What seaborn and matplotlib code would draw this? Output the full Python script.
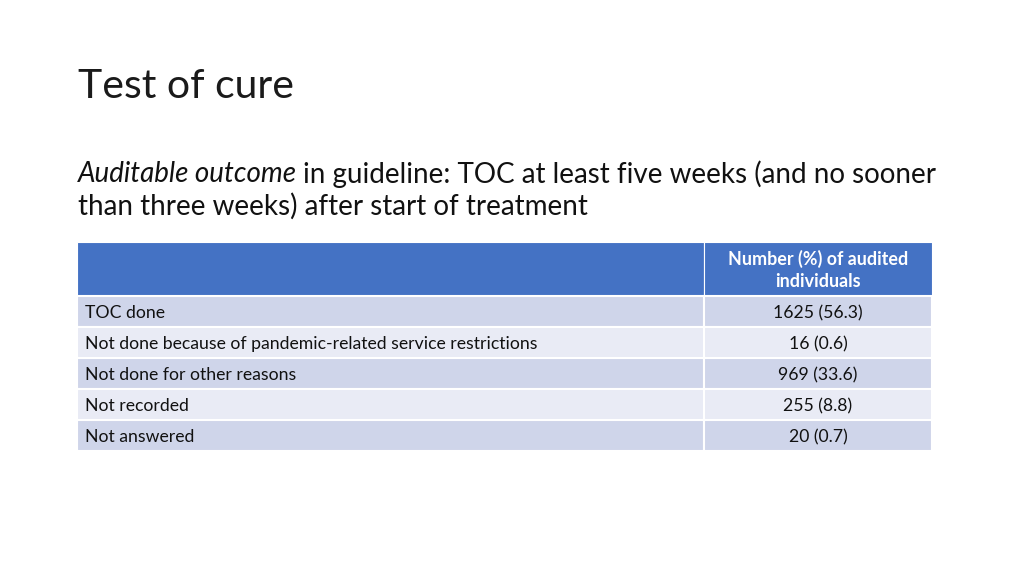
import matplotlib.pyplot as plt
import seaborn as sns
import numpy as np

# table content
header = ["", "Number (%) of audited\nindividuals"]
outcomes = ["TOC done",
            "Not done because of pandemic-related service restrictions",
            "Not done for other reasons",
            "Not recorded",
            "Not answered"]
counts = [1625, 16, 969, 255, 20]
percents = [56.3, 0.6, 33.6, 8.8, 0.7]

sns.set_theme(style="white")
plt.rcParams['font.family'] = ['Lato', 'DejaVu Sans']

W, H = 1024, 576
fig = plt.figure(figsize=(10.24, 5.76), dpi=100)
fig.patch.set_facecolor("white")
ink = "#111111"

# slide text
fig.text(78 / W, 1 - 86 / H, "Test of cure", fontsize=29.5,
         va="center", ha="left", color="#1a1a1a")
it = fig.text(78 / W, 1 - 174 / H, "Auditable outcome", fontsize=20, style="italic",
              va="center", ha="left", color=ink)
r = fig.canvas.get_renderer()
bb = it.get_window_extent(r)
fig.text((bb.x1 + 6) / W, 1 - 174 / H,
         "in guideline: TOC at least five weeks (and no sooner",
         fontsize=20, va="center", ha="left", color=ink)
fig.text(78 / W, 1 - 206 / H, "than three weeks) after start of treatment",
         fontsize=20, va="center", ha="left", color=ink)

# table axes in pixel units
left, right, top, bottom = 77, 932, 242, 451
ax = fig.add_axes([left / W, 1 - bottom / H, (right - left) / W, (bottom - top) / H])
col_w = [627, 228]
row_h = [54] + [31] * len(outcomes)
ax.set_xlim(0, sum(col_w))
ax.set_ylim(sum(row_h), 0)
ax.axis("off")

y_edges = np.concatenate([[0], np.cumsum(row_h)])
x_edges = np.concatenate([[0], np.cumsum(col_w)])
fills = ["#4472C4"] + ["#CFD5EA" if i % 2 == 0 else "#E9EBF5" for i in range(len(outcomes))]

for rr in range(len(row_h)):
    yc = (y_edges[rr] + y_edges[rr + 1]) / 2
    for c in range(2):
        ax.barh(yc, col_w[c], left=x_edges[c], height=row_h[rr],
                color=fills[rr], edgecolor="white", linewidth=1.5 if rr else 0.8)

# header
ax.text((x_edges[1] + x_edges[2]) / 2, (y_edges[0] + y_edges[1]) / 2 + 1, header[1],
        ha="center", va="center", fontsize=12.9, fontweight="bold",
        color="white", linespacing=1.32)

# body
for i, (name, n, p) in enumerate(zip(outcomes, counts, percents)):
    yc = (y_edges[i + 1] + y_edges[i + 2]) / 2 + 1.5
    ax.text(8, yc, name, ha="left", va="center", fontsize=12.7, color=ink)
    ax.text((x_edges[1] + x_edges[2]) / 2, yc, f"{n} ({p})",
            ha="center", va="center", fontsize=12.7, color=ink)

plt.savefig("out.png", dpi=100)
plt.close()
